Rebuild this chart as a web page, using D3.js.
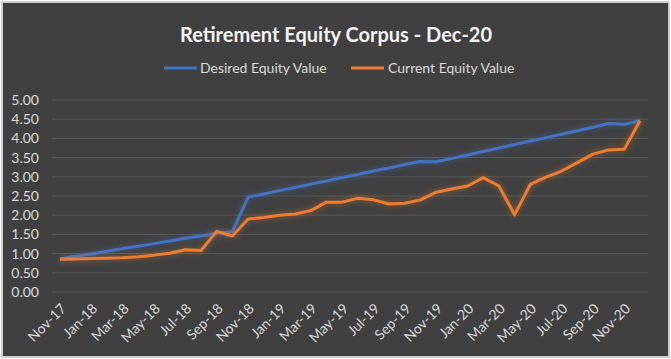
<!DOCTYPE html>
<html><head><meta charset="utf-8">
<script src="https://cdn.jsdelivr.net/npm/d3@7"></script>
<style>html,body{margin:0;padding:0;background:#fff;}svg{display:block;}</style>
</head><body>
<script>
const months = ["Nov-17","Dec-17","Jan-18","Feb-18","Mar-18","Apr-18","May-18","Jun-18","Jul-18","Aug-18","Sep-18","Oct-18",
"Nov-18","Dec-18","Jan-19","Feb-19","Mar-19","Apr-19","May-19","Jun-19","Jul-19","Aug-19","Sep-19","Oct-19",
"Nov-19","Dec-19","Jan-20","Feb-20","Mar-20","Apr-20","May-20","Jun-20","Jul-20","Aug-20","Sep-20","Oct-20","Nov-20","Dec-20"];
const desired = [0.86,0.93,0.99,1.06,1.13,1.19,1.26,1.33,1.40,1.46,1.53,1.57,
2.47,2.55,2.64,2.72,2.81,2.89,2.98,3.06,3.15,3.23,3.32,3.40,
3.39,3.48,3.57,3.66,3.75,3.84,3.93,4.02,4.11,4.20,4.29,4.39,4.37,4.46];
const current = [0.85,0.86,0.87,0.88,0.89,0.92,0.96,1.01,1.10,1.08,1.58,1.46,
1.90,1.94,2.00,2.03,2.12,2.34,2.34,2.44,2.40,2.29,2.31,2.40,
2.60,2.68,2.76,2.98,2.76,2.01,2.80,2.99,3.15,3.37,3.59,3.70,3.72,4.46];
const yTicks = [0,0.5,1,1.5,2,2.5,3,3.5,4,4.5,5];
const title = "Retirement Equity Corpus - Dec-20";
const seriesNames = ["Desired Equity Value","Current Equity Value"];
const colors = ["#4472C4","#ED7D31"];

const W = 671, H = 359;
const svg = d3.select("body").append("svg").attr("width",W).attr("height",H);
const defs = svg.append("defs");
colors.forEach((c,i)=>{
  const f = defs.append("filter").attr("id","glow"+i).attr("x","-10%").attr("y","-10%").attr("width","120%").attr("height","120%");
  f.append("feGaussianBlur").attr("in","SourceGraphic").attr("stdDeviation",3).attr("result","b");
  f.append("feComponentTransfer").attr("in","b").attr("result","b2")
   .append("feFuncA").attr("type","linear").attr("slope",0.5);
  const m = f.append("feMerge");
  m.append("feMergeNode").attr("in","b2");
  m.append("feMergeNode").attr("in","SourceGraphic");
});

svg.append("rect").attr("x",2).attr("y",2).attr("width",W-4).attr("height",H-4)
  .attr("fill","#404040").attr("stroke","#cfcfcf").attr("stroke-width",2);

const font = "Lato, 'Open Sans', sans-serif";
svg.append("text").attr("x",336).attr("y",42).attr("text-anchor","middle")
  .attr("font-family",font).attr("font-weight","bold").attr("font-size",20)
  .attr("fill","#f2f2f2").text(title);

const x = d3.scalePoint().domain(months).range([60,640]);
const y = d3.scaleLinear().domain([0,5]).range([292,100]);

svg.append("g").selectAll("line").data(yTicks).join("line")
  .attr("x1",52).attr("x2",648).attr("y1",d=>y(d)).attr("y2",d=>y(d))
  .attr("stroke","#595959").attr("stroke-width",1);

const yAxis = d3.axisLeft(y).tickValues(yTicks).tickFormat(d3.format(".2f")).tickSize(0).tickPadding(0);
const gy = svg.append("g").attr("transform","translate(39,0)").call(yAxis);
gy.select(".domain").remove();
gy.selectAll("text").attr("font-family",font).attr("font-size",14).attr("fill","#d9d9d9");

const xAxis = d3.axisBottom(x).tickValues(months.filter((d,i)=>i%2===0)).tickSize(0).tickPadding(0);
const gx = svg.append("g").attr("transform","translate(0,306)").call(xAxis);
gx.select(".domain").remove();
gx.selectAll("text").attr("font-family",font).attr("font-size",14).attr("fill","#d9d9d9")
  .attr("text-anchor","end").attr("dy","0.35em").attr("dx",0)
  .attr("transform","translate(3,0) rotate(-45)");

const line = d3.line().x((d,i)=>x(months[i])).y(d=>y(d));
[desired,current].forEach((s,i)=>{
  svg.append("path").datum(s).attr("d",line).attr("fill","none")
    .attr("stroke",colors[i]).attr("stroke-width",3).attr("stroke-linejoin","round")
    .attr("filter","url(#glow"+i+")");
});

const legendItems = [{x:164,tx:200},{x:351,tx:388}];
legendItems.forEach((L,i)=>{
  svg.append("line").attr("x1",L.x).attr("x2",L.x+33).attr("y1",68).attr("y2",68)
    .attr("stroke",colors[i]).attr("stroke-width",3);
  svg.append("text").attr("x",L.tx).attr("y",68).attr("dy","0.35em")
    .attr("font-family",font).attr("font-size",14).attr("fill","#d9d9d9").text(seriesNames[i]);
});
</script>
</body></html>
